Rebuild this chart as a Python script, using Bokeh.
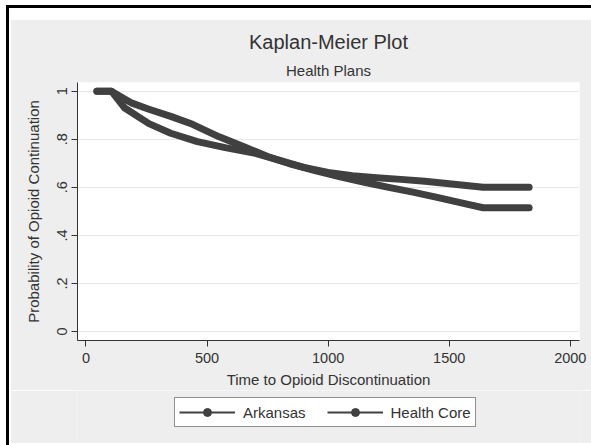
from bokeh.plotting import figure
from bokeh.layouts import column
from bokeh.models import Title, Legend, LegendItem, FixedTicker, Range1d, InlineStyleSheet
from bokeh.embed import file_html
from bokeh.resources import INLINE

# ---- data ----
time_ark = [45, 105, 190, 260, 350, 440, 550, 650, 750, 850, 950, 1050, 1150, 1250, 1350, 1450, 1550, 1640, 1830]
surv_ark = [1.0, 1.0, 0.95, 0.925, 0.895, 0.862, 0.81, 0.77, 0.728, 0.695, 0.668, 0.644, 0.621, 0.600, 0.580, 0.558, 0.535, 0.515, 0.515]

time_hc = [45, 105, 160, 260, 350, 460, 575, 700, 800, 900, 1000, 1100, 1200, 1300, 1400, 1500, 1640, 1830]
surv_hc = [1.0, 1.0, 0.93, 0.865, 0.825, 0.79, 0.765, 0.741, 0.712, 0.683, 0.662, 0.648, 0.64, 0.633, 0.625, 0.615, 0.600, 0.600]

x_ticks = [0, 500, 1000, 1500, 2000]
y_ticks = [0, 0.2, 0.4, 0.6, 0.8, 1.0]
y_tick_labels = ["0", ".2", ".4", ".6", ".8", "1"]

title_text = "Kaplan-Meier Plot"
subtitle_text = "Health Plans"
x_label = "Time to Opioid Discontinuation"
y_label = "Probability of Opioid Continuation"
series_names = ["Arkansas", "Health Core"]

FONT = "Liberation Sans"
INK = "#404040"
TXT = "#333333"
BG = "#eeeeee"

p = figure(width=591, height=390, output_backend="svg", toolbar_location=None,
           x_range=Range1d(-35, 2038), y_range=Range1d(-0.0373, 1.036),
           min_border_left=77, min_border_right=12, min_border_top=82, min_border_bottom=49,
           background_fill_color="white", border_fill_color=BG)
p.outline_line_color = None

# titles (first added sits closest to the frame)
p.add_layout(Title(text=subtitle_text, align="center", text_font=FONT, text_font_size="15px",
                   text_font_style="normal", text_color=TXT, standoff=7), "above")
p.add_layout(Title(text=title_text, align="center", text_font=FONT, text_font_size="20px",
                   text_font_style="normal", text_color=TXT, standoff=8), "above")

# axes
p.xaxis.ticker = FixedTicker(ticks=x_ticks)
p.yaxis.ticker = FixedTicker(ticks=y_ticks)
p.yaxis.major_label_overrides = {t: l for t, l in zip(y_ticks, y_tick_labels)}
p.yaxis.major_label_orientation = "vertical"
for ax in (p.xaxis, p.yaxis):
    ax.axis_line_color = "#333333"
    ax.axis_line_width = 1
    ax.major_tick_line_color = "#333333"
    ax.major_tick_in = 0
    ax.major_tick_out = 6
    ax.minor_tick_line_color = None
    ax.major_label_text_font = FONT
    ax.major_label_text_font_size = "14.5px"
    ax.major_label_text_color = TXT
    ax.axis_label_text_font = FONT
    ax.axis_label_text_font_size = "15px"
    ax.axis_label_text_font_style = "normal"
    ax.axis_label_text_color = TXT
p.xaxis.axis_label = x_label
p.yaxis.axis_label = y_label
p.xaxis.major_label_standoff = 6
p.xaxis.axis_label_standoff = 5
p.yaxis.major_label_standoff = 4
p.yaxis.axis_label_standoff = 13

p.xgrid.grid_line_color = None
p.ygrid.grid_line_color = "#e8e8e8"
p.ygrid.grid_line_width = 1

# survival curves
p.line(time_ark, surv_ark, line_color=INK, line_width=7, line_cap="round", line_join="round")
p.line(time_hc, surv_hc, line_color=INK, line_width=7, line_cap="round", line_join="round")

# ---- legend strip below the chart ----
leg = figure(width=591, height=55, output_backend="svg", toolbar_location=None,
             x_range=Range1d(-2, -1), y_range=Range1d(-2, -1),
             min_border=0, background_fill_color=BG, border_fill_color=BG)
leg.outline_line_color = None
leg.axis.visible = False
leg.grid.visible = False
l_ark = leg.line(time_ark, surv_ark, line_color=INK, line_width=2)
l_hc = leg.line(time_hc, surv_hc, line_color=INK, line_width=2)
d_ark = leg.scatter(time_ark, surv_ark, marker="circle", size=8, fill_color=INK, line_color=INK)
d_hc = leg.scatter(time_hc, surv_hc, marker="circle", size=8, fill_color=INK, line_color=INK)

legend = Legend(items=[LegendItem(label=series_names[0], renderers=[l_ark, d_ark], index=0),
                       LegendItem(label=series_names[1], renderers=[l_hc, d_hc], index=0)],
                orientation="horizontal", location=(97, 18),
                glyph_width=56, glyph_height=20, label_standoff=8, spacing=21,
                padding=4, margin=0,
                label_text_font=FONT, label_text_font_size="15px", label_text_color=TXT,
                border_line_color="#222222", border_line_width=1,
                background_fill_color="white", background_fill_alpha=1.0)
leg.add_layout(legend, "center")

# outer frame of the exported graph: white margin and black top/left edge
frame_css = InlineStyleSheet(css="""
:host { position: relative; }
:host::before { content: ""; position: absolute; left: 0; top: 0; right: 0; bottom: 0;
  border-top: 20px solid #ffffff; border-left: 11px solid #ffffff; border-bottom: 2px solid #ffffff;
  pointer-events: none; z-index: 100; }
:host::after { content: ""; position: absolute; left: 6px; top: 5px; right: 0; bottom: 0;
  border-top: 3px solid #000000; border-left: 3px solid #000000;
  pointer-events: none; z-index: 101; }
""")

layout = column(p, leg, spacing=0, stylesheets=[frame_css])
open("out.html", "w").write(file_html(layout, INLINE))
